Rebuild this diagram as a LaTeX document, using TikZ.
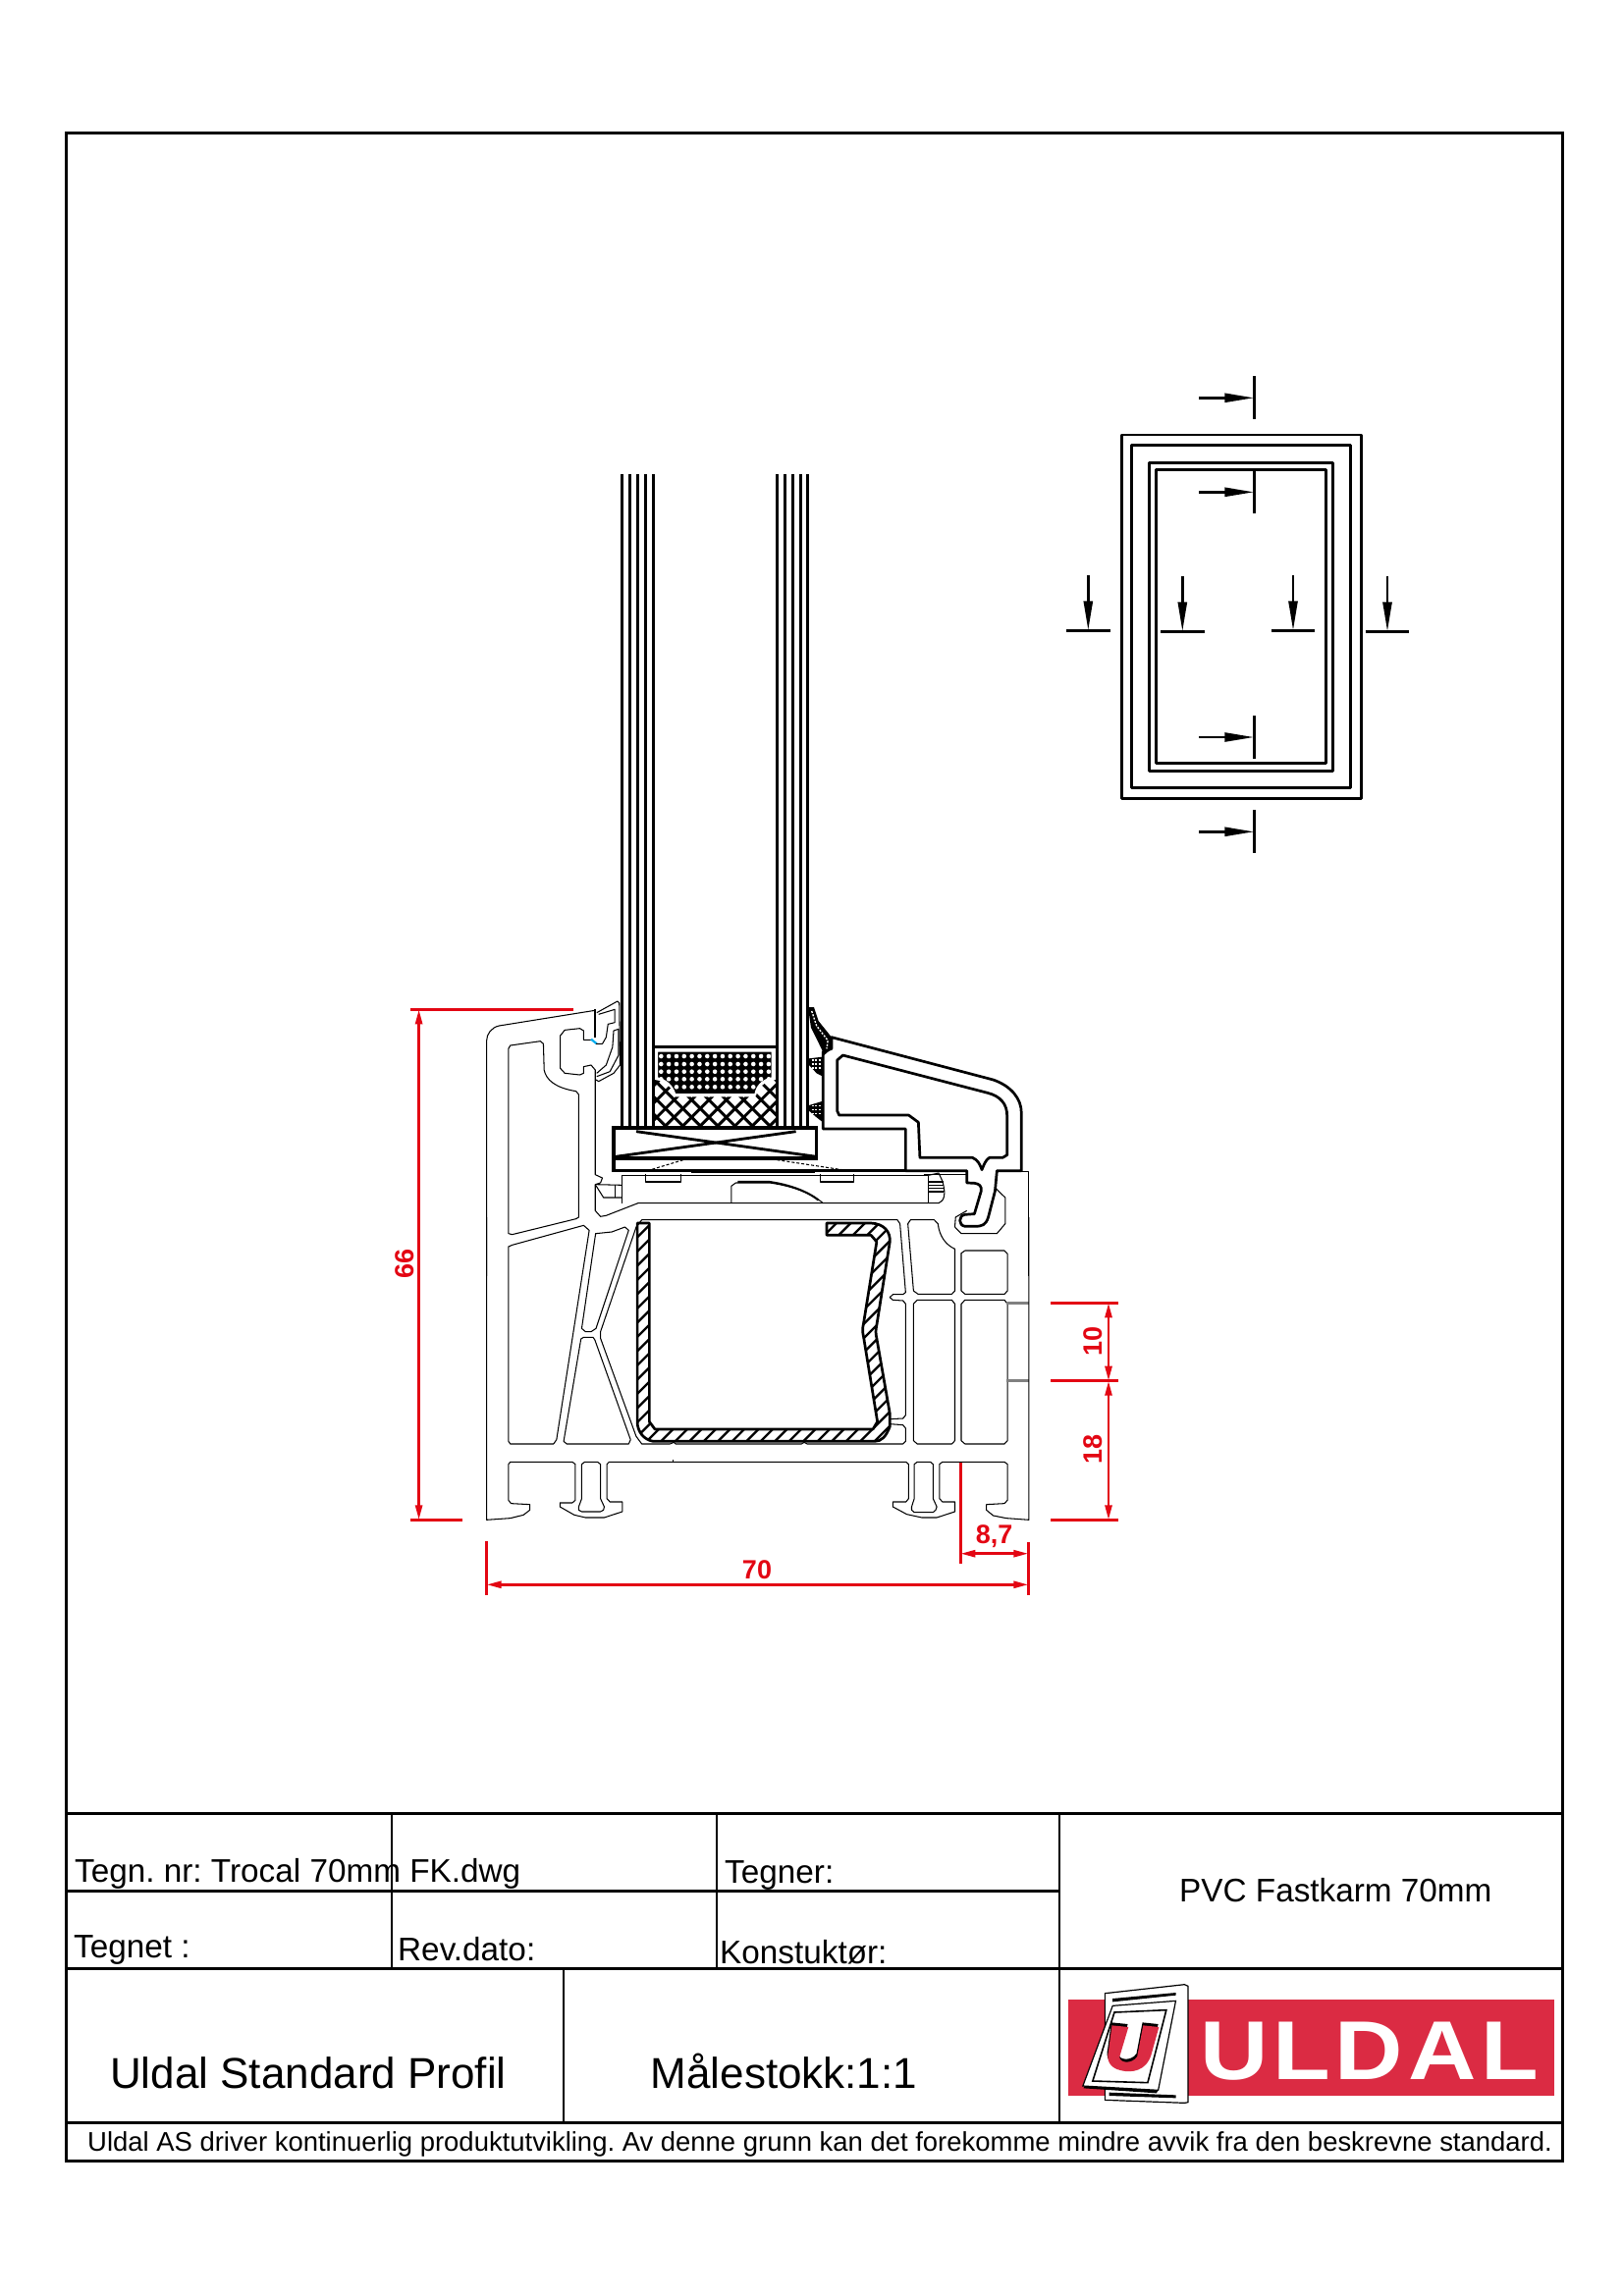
\documentclass[tikz,border=0pt]{standalone}
\usepackage{fontspec}
\setmainfont{Liberation Sans}
\usepackage{tikz}
\usetikzlibrary{arrows.meta}

\definecolor{dimred}{HTML}{E30613}
\definecolor{logored}{HTML}{DB2B43}
\newcommand{\fs}[1]{\fontsize{#1}{#1}\selectfont}
\def\steelpath{(972,18) -- (1090,18) .. controls (1125,20) and (1142,45) .. (1140,75) -- (1105,330) .. controls (1102,345) and (1102,355) .. (1105,370) -- (1140,600) -- (1140,640) .. controls (1130,670) and (1118,685) .. (1100,685) -- (510,685) .. controls (485,680) and (468,655) .. (468,625) -- (468,18) -- (500,18) -- (500,625) -- (515,648) -- (1095,648) -- (1107,625) -- (1070,365) .. controls (1067,350) and (1067,340) .. (1070,325) -- (1105,75) -- (1090,55) -- (972,55) -- cycle}
\def\darkpath{(207,212) -- (560,212) -- (560,295) .. controls (530,300) and (512,320) .. (508,345) -- (262,345) .. controls (255,320) and (235,300) .. (207,295) -- cycle}
\def\logou{(203,160) -- (250,165) -- (225,255) .. controls (222,275) and (260,280) .. (275,255) -- (292,160) -- (337,165) -- (315,250) .. controls (300,300) and (260,305) .. (230,298) .. controls (195,290) and (187,265) .. (193,240) -- cycle}

\begin{document}
\frenchspacing
\begin{tikzpicture}[
        x=1pt, y=-1pt,
        upper/.style={shift={(470,1000)},xscale=.3827,yscale=.3333},
        lower/.style={shift={(470,1240)},xscale=.3827,yscale=.3333},
        inset/.style={shift={(600,1000)},xscale=.3333,yscale=.3333},
        logo/.style={shift={(1060,2010)},xscale=.3571,yscale=.3333},
        thinline/.style={line width=1.05pt, line join=round},
        heavy/.style={line width=2.7pt, line join=round},
        frameline/.style={line width=3pt},
        gridline/.style={line width=2.2pt},
        glassline/.style={line width=2.6pt},
        section/.style={line width=2.6pt, -{Triangle[length=30pt,width=9pt]}},
        dim/.style={dimred, line width=2.6pt},
        dimarrow/.style={dim, {Triangle[length=15pt,width=7pt]}-{Triangle[length=15pt,width=7pt]}},
        dimtext/.style={text=dimred, inner sep=0pt, font=\fs{27}\bfseries},
        title/.style={anchor=base west, inner sep=0pt, font=\fs{33.3}},
        big/.style={anchor=base west, inner sep=0pt, font=\fs{44}}
    ]
    \useasboundingbox (0,0) rectangle (1653,2339);

    \draw[frameline] (67,136) rectangle (1591,2201);
    \draw[frameline] (67,1847) -- (1591,1847);
    \draw[frameline] (67,1926) -- (1079,1926);
    \draw[frameline] (67,2005) -- (1591,2005);
    \draw[frameline] (67,2162) -- (1591,2162);
    \draw[gridline] (399,1847) -- (399,2005);
    \draw[gridline] (730,1847) -- (730,2005);
    \draw[gridline] (1079,1847) -- (1079,2162);
    \draw[gridline] (574,2005) -- (574,2162);

    \node[title] (tegnnr) at (76,1917) {Tegn. nr: Trocal 70mm FK.dwg};
    \node[title] (tegner) at (738,1918) {Tegner:};
    \node[title] (tegnet) at (75,1994) {Tegnet :};
    \node[title] (revdato) at (405,1997) {Rev.dato:};
    \node[title] (konst) at (733,2000) {Konstuktør:};
    \node[title] (pvc) at (1201,1937.5) {PVC Fastkarm 70mm};
    \node[big] (profil) at (112,2127) {Uldal Standard Profil};
    \node[big] (scale) at (662.5,2127) {Målestokk:1:1};
    \node[anchor=base west, inner sep=0pt, font=\fs{27.45}] (note) at (89,2191) {Uldal AS driver kontinuerlig produktutvikling. Av denne grunn kan det forekomme mindre avvik fra den beskrevne standard.};

    \fill[logored] (1087.5,2037) rectangle (1582.5,2135);
    \node[anchor=base west, inner sep=0pt, xscale=1.13, text=white, font=\fs{85}\bfseries\addfontfeature{LetterSpace=5}] (uldal) at (1222,2118) {ULDAL};
    \begin{scope}[logo]
        \draw[fill=white, line width=1.2pt] (183,62) -- (410,35) -- (420,40) -- (420,395) -- (410,397) -- (183,388) -- cycle;
        \fill (205,78) -- (385,60) -- (385,68) -- (205,88) -- cycle;
        \fill (195,365) -- (385,373) -- (385,382) -- (195,375) -- cycle;
        \fill (125,345) -- (335,358) -- (330,367) -- (122,352) -- cycle;
        \draw[fill=white, line width=1.2pt] (120,345) -- (205,100) -- (385,85) -- (335,358) -- cycle;
        \draw[line width=1.6pt] (148,330) -- (210,120) -- (358,113) -- (305,335) -- cycle;
        \fill[xshift=-2,yshift=9] \logou;
        \fill[logored] \logou;
    \end{scope}

    \draw[heavy] (1142.3,443) rectangle (1386.7,813.3);
    \draw[heavy] (1152.3,453.3) rectangle (1375.7,802.3);
    \draw[heavy] (1170.3,471.3) rectangle (1357.7,785.3);
    \draw[heavy] (1177.3,478.3) rectangle (1350.7,777.3);
    \foreach \yy in {405.3,501.3,751,847.3} {
        \draw[section] (1221.3,\yy) -- (1277.3,\yy);
        \draw[glassline] (1277.3,\yy-22) -- (1277.3,\yy+22);
    }
    \foreach \xx/\yy in {1108.3/642.3,1204.3/643.3,1317/642.3,1413/643.3} {
        \draw[section] (\xx,\yy-56) -- (\xx,\yy);
        \draw[glassline] (\xx-22.3,\yy) -- (\xx+22.3,\yy);
    }

    \foreach \xx in {633.3,641.3,649.3,657.3,665.3,791.3,799.3,807.3,815.3,822.7}
        \draw[glassline] (\xx,483) -- (\xx,1149);

    \begin{scope}
        \clip[inset] (200,300) .. controls (235,305) and (255,325) .. (262,352) -- (508,352) .. controls (515,325) and (535,305) .. (570,300) -- (570,446) -- (200,446) -- cycle;
        \foreach \k in {-12,...,12} {
            \draw[line width=3pt] ({713.2+17.7*\k-40},1169.3) -- ({713.2+17.7*\k+40},1089.3);
            \draw[line width=3pt] ({713.2+17.7*\k-40},1089.3) -- ({713.2+17.7*\k+40},1169.3);
        }
    \end{scope}
    \draw[inset, line width=3pt] (200,200) -- (570,200);
    \draw[inset, draw=white, line width=2pt, fill=black] \darkpath;
    \begin{scope}
        \clip[inset] \darkpath;
        \foreach \i in {0,...,14}
            \foreach \yy in {1076,1084,1091.7,1099.3,1107.3}
                \fill[white] ({673.3+7.83*\i},\yy) circle[radius=2.3];
    \end{scope}

    \begin{scope}[upper]
        \draw[line width=3.4pt] (405,447) rectangle (945,540);
        \draw[line width=3.4pt] (405,540) -- (405,578) -- (1182,578);
        \draw[line width=2.8pt] (465,458) -- (945,535);
        \draw[line width=2.8pt] (890,458) -- (410,535);
        \draw[heavy] (612,582) -- (940,582);
        \draw[thinline, densely dashed] (495,578) -- (590,545);
        \draw[thinline, densely dashed] (840,545) -- (1030,578);

        \draw[heavy] (985,170) -- (1415,300) .. controls (1465,320) and (1490,360) .. (1490,400) -- (1490,578) -- (1425,578) -- (1420,640) -- (1402,720) .. controls (1395,745) and (1385,748) .. (1365,748) -- (1340,748) .. controls (1322,745) and (1322,715) .. (1340,712) -- (1365,710) -- (1383,640) .. controls (1385,625) and (1378,618) .. (1365,616) -- (1345,615) -- (1345,578) -- (1182,578) -- (1182,450) -- (962,450) -- (962,215) -- (985,205) -- cycle;
        \draw[heavy] (1000,240) -- (1015,225) -- (1400,340) .. controls (1435,350) and (1452,375) .. (1452,410) -- (1452,530) -- (1440,538) -- (1405,538) .. controls (1395,545) and (1390,560) .. (1385,575) .. controls (1380,560) and (1375,545) .. (1360,538) -- (1220,538) -- (1216,430) -- (1190,408) -- (1005,408) -- (1000,395) -- cycle;

        \fill (925,78) -- (938,78) -- (950,120) -- (985,170) -- (985,205) -- (965,225) -- (958,205) -- (930,140) -- (925,100) -- cycle;
        \fill (925,235) -- (960,230) -- (962,290) -- (945,280) -- (925,255) -- cycle;
        \fill (925,378) -- (962,365) -- (962,430) -- (945,415) -- (925,395) -- cycle;
        \draw[white, line width=1.4pt, dash pattern=on 2pt off 1.5pt] (932,90) -- (945,135) -- (975,180) -- (972,205);
        \foreach \yy in {240,252,264}
            \draw[white, line width=1.4pt, dash pattern=on 2pt off 1.5pt] (932,\yy) -- (958,\yy);
        \foreach \yy in {380,392,404}
            \draw[white, line width=1.4pt, dash pattern=on 2pt off 1.5pt] (932,\yy) -- (958,\yy);

        \draw[thinline] (355,88) -- (100,135) .. controls (80,140) and (67,160) .. (67,180) -- (67,900);
        \draw[thinline] (1425,580) -- (1510,580) -- (1510,900);
        \draw[thinline] (125,205) -- (130,195) -- (210,182) -- (218,190) -- (220,270) .. controls (225,300) and (250,325) .. (305,335) -- (312,345) -- (312,720) -- (305,725) -- (135,773) -- (125,770) -- cycle;
        \draw[thinline] (345,178) -- (325,178) -- (325,150) -- (315,143) -- (275,148) -- (263,165) -- (263,265) -- (275,280) -- (315,285) -- (325,280) -- (325,260) -- (345,255) -- (356,270) -- (356,590) -- (375,600) -- (370,615) -- (356,620) -- (356,700) -- (370,718) -- (385,715) -- (470,677) -- (1270,677) .. controls (1285,670) and (1290,650) .. (1280,610) -- (1270,585) -- (1243,592);
        \draw[line width=2pt] (356,85) -- (356,172);
        \draw[cyan, line width=2.2pt] (345,176) -- (360,190);
        \draw[thinline] (360,95) -- (415,60) -- (420,65) -- (422,255) -- (405,280) -- (365,305) -- (358,300);
        \draw[thinline] (365,100) -- (408,85) -- (408,125) -- (390,130) -- (385,170) -- (375,190) -- (358,190);
        \draw[thinline] (405,150) -- (418,145) -- (418,225) -- (395,275) -- (360,290);
        \draw[thinline] (405,150) -- (402,200) -- (385,255) -- (360,280);
        \draw[thinline] (428,677) -- (428,592) -- (1243,592) -- (1243,677);
        \draw[thinline] (490,588) -- (490,612) -- (584,612) -- (584,588);
        \draw[thinline] (955,588) -- (955,612) -- (1045,612) -- (1045,588);
        \draw[thinline] (718,677) -- (718,625) -- (730,615) -- (820,615) .. controls (880,625) and (930,645) .. (962,677);
        \draw[line width=2pt] (735,612) -- (820,612) .. controls (870,620) and (920,640) .. (950,668);
        \draw[thinline] (356,620) -- (378,660) -- (428,660);
        \draw[thinline] (356,620) -- (428,622);
        \draw[thinline] (408,622) -- (408,660);
        \foreach \yy in {612,622,632,642}
            \draw[thinline] (1245,\yy) -- (1282,\yy);
        \draw[thinline] (1345,700) -- (1315,720) -- (1313,750) -- (1330,770) -- (1425,770) -- (1447,740) -- (1447,660) -- (1422,632);
        \draw[thinline] (1230,590) -- (1345,590);
    \end{scope}

    \begin{scope}[lower]
        \draw[thinline] (125,90) -- (135,85) -- (325,25) -- (340,40) -- (253,680) -- (245,693) -- (130,693) -- (125,685) -- cycle;
        \draw[thinline] (357,50) -- (400,45) -- (435,30) -- (445,40) -- (358,340) -- (345,350) -- (330,350) -- (320,340) -- cycle;
        \draw[thinline] (318,372) -- (325,367) -- (350,367) -- (355,375) -- (450,680) -- (445,693) -- (280,693) -- (272,685) -- cycle;
        \draw[thinline] (1140,632) -- (1175,635) -- (1182,645) -- (1182,685) -- (1175,693) -- (920,693) -- (912,688) -- (905,693) -- (570,693) -- (565,688) -- (555,693) -- (480,693) -- (465,670) -- (370,370) -- (370,350) -- (465,30) -- (480,8) -- (1160,8) -- (1167,20) -- (1182,230) -- (1175,236) -- (1148,236) -- (1140,245) -- (1148,253) -- (1175,255) -- (1182,265) -- (1182,605) -- (1175,615) -- (1140,617);
        \draw[thinline] (1188,20) -- (1195,8) -- (1258,8) -- (1268,20) .. controls (1272,60) and (1290,85) .. (1313,97) -- (1313,225) -- (1305,235) -- (1215,235) -- (1203,225) -- cycle;
        \draw[thinline] (1330,110) -- (1340,102) -- (1445,102) -- (1453,112) -- (1453,225) -- (1445,235) -- (1340,235) -- (1330,225) -- cycle;
        \draw[thinline] (1203,265) -- (1213,253) -- (1305,253) -- (1313,265) -- (1313,683) -- (1305,693) -- (1213,693) -- (1203,683) -- cycle;
        \draw[thinline] (1330,265) -- (1340,253) -- (1445,253) -- (1453,265) -- (1453,683) -- (1445,693) -- (1340,693) -- (1330,683) -- cycle;
        \draw[gray, line width=2.6pt] (1450,263) -- (1510,263);
        \draw[gray, line width=2.6pt] (1450,500) -- (1510,500);
        \draw[thinline] (67,0) -- (67,925) -- (130,920) -- (165,910) -- (182,895) -- (182,878) -- (132,875) -- (125,865) -- (125,755) -- (130,748) -- (295,748) -- (303,755) -- (303,865) -- (295,873) -- (262,873) -- (262,885) -- (300,910) -- (330,918) -- (380,918) -- (428,900) -- (428,870) -- (395,870) -- (387,860) -- (387,755) -- (393,748) -- (1183,748) -- (1190,755) -- (1190,860) -- (1183,870) -- (1148,870) -- (1148,885) -- (1185,908) -- (1225,918) -- (1265,918) -- (1313,900) -- (1313,870) -- (1280,870) -- (1272,860) -- (1272,755) -- (1280,748) -- (1445,748) -- (1453,755) -- (1453,865) -- (1445,875) -- (1397,878) -- (1397,895) -- (1415,912) -- (1450,920) -- (1510,925) -- (1510,0);
        \draw[thinline] (320,755) -- (328,748) -- (362,748) -- (370,755) -- (370,860) -- (380,885) -- (378,895) -- (370,900) -- (320,900) -- (312,895) -- (312,885) -- (320,860) -- cycle;
        \draw[thinline] (1205,755) -- (1213,748) -- (1248,748) -- (1255,755) -- (1255,860) -- (1265,885) -- (1262,895) -- (1255,902) -- (1205,902) -- (1198,895) -- (1198,885) -- (1205,860) -- cycle;
        \draw[thinline] (562,742) -- (562,748);
        \draw[heavy] \steelpath;
    \end{scope}
    \begin{scope}
        \clip[lower] \steelpath;
        \foreach \k in {0,...,34}
            \draw[line width=2.4pt] ({1895+14.5*\k-1540},1540) -- ({1895+14.5*\k-1240},1240);
    \end{scope}

    \draw[dim] (417.6,1028.3) -- (584,1028.3);
    \draw[dim] (417.6,1548.3) -- (471,1548.3);
    \draw[dimarrow] (426.6,1028.3) -- (426.6,1548.3);
    \draw[dim] (1070,1327.3) -- (1139.3,1327.3);
    \draw[dim] (1070,1406.7) -- (1139.3,1406.7);
    \draw[dim] (1070,1548.3) -- (1139.3,1548.3);
    \draw[dimarrow] (1129,1327.3) -- (1129,1406.7);
    \draw[dimarrow] (1129,1406.7) -- (1129,1548.3);
    \draw[dim] (978.3,1490) -- (978.3,1593.3);
    \draw[dim] (1047.3,1570.7) -- (1047.3,1625);
    \draw[dim] (495.6,1570) -- (495.6,1625);
    \draw[dimarrow] (978.3,1582.7) -- (1047.3,1582.7);
    \draw[dimarrow] (495.6,1614.3) -- (1047.3,1614.3);

    \node[dimtext, rotate=90] (d66) at (411.7,1287) {66};
    \node[dimtext, rotate=90] (d10) at (1113.3,1366.7) {10};
    \node[dimtext, rotate=90] (d18) at (1113.3,1476.7) {18};
    \node[dimtext] (d87) at (1012.7,1565) {8,7};
    \node[dimtext] (d70) at (771,1599) {70};
\end{tikzpicture}
\end{document}
